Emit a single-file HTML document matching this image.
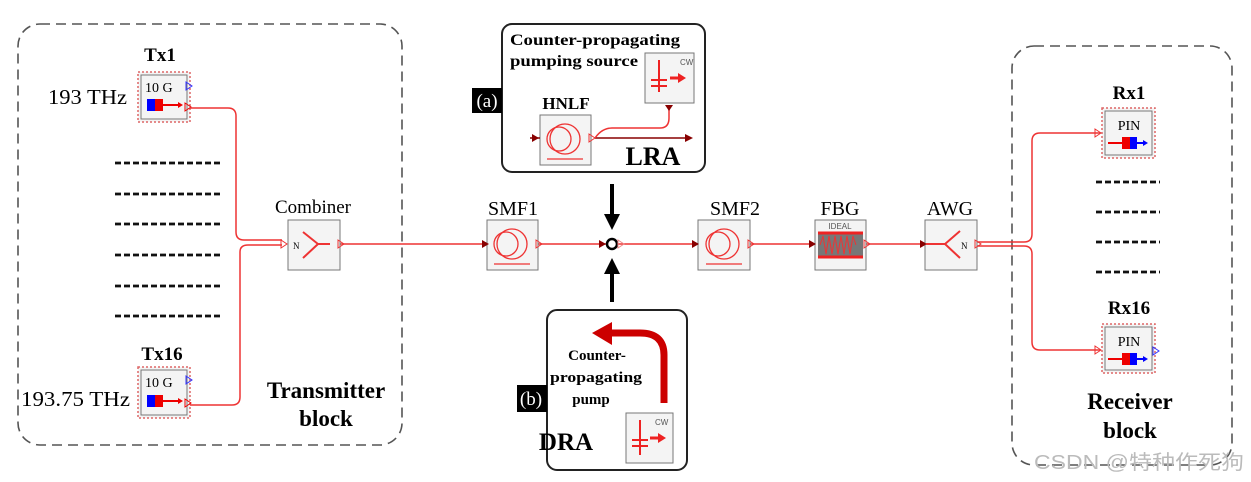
<!DOCTYPE html>
<html><head><meta charset="utf-8"><style>
html,body{margin:0;padding:0;background:#fff;}
svg{display:block}
text{font-family:"Liberation Serif",serif;}
</style></head><body>
<svg width="1251" height="482" viewBox="0 0 1251 482" xmlns="http://www.w3.org/2000/svg">
<rect x="18" y="24" width="384" height="421" rx="22" fill="none" stroke="#555" stroke-width="1.6" stroke-dasharray="10,6"/>
<rect x="1012" y="46" width="220" height="419" rx="22" fill="none" stroke="#555" stroke-width="1.6" stroke-dasharray="10,6"/>

<!-- Tx1 -->
<text x="160" y="61" font-size="19" font-weight="bold" text-anchor="middle">Tx1</text>
<rect x="138" y="72" width="52" height="50" fill="#f4f4f4" stroke="#d66" stroke-width="1.5" stroke-dasharray="2,2"/>
<rect x="141" y="75" width="46" height="44" fill="none" stroke="#777"/>
<text x="145" y="92" font-size="14">10 G</text>
<path d="M186,82 l6,4 l-6,4z" fill="none" stroke="#33f"/>
<rect x="147" y="99" width="8" height="12" fill="#00f"/><rect x="155" y="99" width="8" height="12" fill="#e00"/>
<path d="M163,105 h18" stroke="#e00" stroke-width="2"/><path d="M178,102 l5,3 l-5,3z" fill="#e00"/>
<path d="M185,103 l6,4 l-6,4z" fill="none" stroke="#e00"/>
<text x="48" y="104" font-size="21" textLength="79" lengthAdjust="spacingAndGlyphs">193 THz</text>
<!-- Tx16 -->
<text x="162" y="360" font-size="19" font-weight="bold" text-anchor="middle">Tx16</text>
<rect x="138" y="367" width="52" height="51" fill="#f4f4f4" stroke="#d66" stroke-width="1.5" stroke-dasharray="2,2"/>
<rect x="141" y="370" width="46" height="45" fill="none" stroke="#777"/>
<text x="145" y="387" font-size="14">10 G</text>
<path d="M186,376 l6,4 l-6,4z" fill="none" stroke="#33f"/>
<rect x="147" y="395" width="8" height="12" fill="#00f"/><rect x="155" y="395" width="8" height="12" fill="#e00"/>
<path d="M163,401 h18" stroke="#e00" stroke-width="2"/><path d="M178,398 l5,3 l-5,3z" fill="#e00"/>
<path d="M185,399 l6,4 l-6,4z" fill="none" stroke="#e00"/>
<text x="21" y="406" font-size="21" textLength="109" lengthAdjust="spacingAndGlyphs">193.75 THz</text>
<g stroke="#111" stroke-width="2.8" stroke-dasharray="6,3">
<path d="M115,163h105M115,194h105M115,224h105M115,255h105M115,286h105M115,316h105"/>
<path d="M1096,182h64M1096,212h64M1096,242h64M1096,272h64"/>
</g>
<text x="326" y="398" font-size="23" font-weight="bold" text-anchor="middle">Transmitter</text>
<text x="326" y="426" font-size="23" font-weight="bold" text-anchor="middle">block</text>

<g fill="none" stroke="#e33" stroke-width="1.5">
<path d="M190,108 H228 Q236,108 236,116 V232 Q236,240 244,240 H282"/>
<path d="M190,405 H232 Q240,405 240,397 V252 Q240,245 248,245 H282"/>
<path d="M340,244 H487"/>
<path d="M538,244 H607"/>
<path d="M617,244 H698"/>
<path d="M750,244 H815"/>
<path d="M866,244 H925"/>
<path d="M977,242 H1024 Q1032,242 1032,234 V141 Q1032,133 1040,133 H1100"/>
<path d="M977,246 H1024 Q1032,246 1032,254 V342 Q1032,350 1040,350 H1100"/>
</g>
<path d="M1095,129 l6,4 l-6,4z" fill="none" stroke="#e33"/>
<path d="M1095,346 l6,4 l-6,4z" fill="none" stroke="#e33"/>

<!-- Combiner -->
<text x="313" y="213" font-size="19" text-anchor="middle">Combiner</text>
<rect x="288" y="220" width="52" height="50" fill="#f4f4f4" stroke="#777"/>
<path d="M281,240 l6,4 l-6,4z" fill="none" stroke="#e33"/>
<text x="293" y="249" font-size="9">N</text>
<path d="M303,232 L318,244 L303,258 M318,244 H330" stroke="#e33" stroke-width="2" fill="none"/>
<path d="M338,240 l6,4 l-6,4z" fill="none" stroke="#e33"/>

<text x="513" y="215" font-size="20" text-anchor="middle">SMF1</text>
<rect x="487" y="220" width="51" height="50" fill="#f4f4f4" stroke="#777"/>
<g fill="none" stroke="#e33" stroke-width="1.3"><circle cx="512" cy="244" r="15"/><circle cx="506" cy="244" r="12"/><path d="M494,264h36"/></g>
<path d="M482,240 l7,4 l-7,4z" fill="#800"/><path d="M536,240 l6,4 l-6,4z" fill="none" stroke="#e33"/>

<text x="735" y="215" font-size="20" text-anchor="middle">SMF2</text>
<rect x="698" y="220" width="52" height="50" fill="#f4f4f4" stroke="#777"/>
<g fill="none" stroke="#e33" stroke-width="1.3"><circle cx="724" cy="244" r="15"/><circle cx="718" cy="244" r="12"/><path d="M706,264h36"/></g>
<path d="M692,240 l7,4 l-7,4z" fill="#800"/><path d="M748,240 l6,4 l-6,4z" fill="none" stroke="#e33"/>

<circle cx="612" cy="244" r="5" fill="#fff" stroke="#000" stroke-width="2.5"/>
<path d="M599,240 l7,4 l-7,4z" fill="#800"/><path d="M618,240 l6,4 l-6,4z" fill="none" stroke="#e88"/>
<path d="M612,184 V216" stroke="#000" stroke-width="4"/><path d="M604,214 L612,230 L620,214z" fill="#000"/>
<path d="M612,302 V272" stroke="#000" stroke-width="4"/><path d="M604,274 L612,258 L620,274z" fill="#000"/>

<text x="840" y="215" font-size="20" text-anchor="middle">FBG</text>
<rect x="815" y="220" width="51" height="50" fill="#f4f4f4" stroke="#777"/>
<text x="840" y="229" font-size="8" style="font-family:'Liberation Sans',sans-serif" text-anchor="middle" fill="#555">IDEAL</text>
<rect x="818" y="232" width="45" height="26" fill="#777"/>
<path d="M818,233h45M818,257h45" stroke="#e22" stroke-width="3"/>
<path d="M820,245 l3,-9 l3,18 l3,-18 l3,18 l3,-18 l3,18 l3,-18 l3,18 l3,-18 l3,18 l3,-18 l3,9" fill="none" stroke="#e33"/>
<path d="M809,240 l7,4 l-7,4z" fill="#800"/><path d="M864,240 l6,4 l-6,4z" fill="none" stroke="#e33"/>

<text x="950" y="215" font-size="20" text-anchor="middle">AWG</text>
<rect x="925" y="220" width="52" height="50" fill="#f4f4f4" stroke="#777"/>
<path d="M920,240 l7,4 l-7,4z" fill="#800"/>
<path d="M926,244 H945 M960,231 L945,244 L960,258" stroke="#e33" stroke-width="2" fill="none"/>
<text x="961" y="249" font-size="9">N</text>
<path d="M975,240 l6,4 l-6,4z" fill="none" stroke="#e33"/>

<!-- LRA box -->
<rect x="502" y="24" width="203" height="148" rx="10" fill="#fff" stroke="#222" stroke-width="2"/>
<text x="510" y="45" font-size="16" font-weight="bold" textLength="170" lengthAdjust="spacingAndGlyphs">Counter-propagating</text>
<text x="510" y="66" font-size="16" font-weight="bold" textLength="128" lengthAdjust="spacingAndGlyphs">pumping source</text>
<rect x="645" y="53" width="49" height="50" fill="#f4f4f4" stroke="#777"/>
<text x="680" y="65" font-size="8" style="font-family:'Liberation Sans',sans-serif" fill="#555">CW</text>
<path d="M659,60 V92 M651,80 h16 M651,86 h16" stroke="#e22" stroke-width="2"/>
<path d="M670,78 h10" stroke="#e22" stroke-width="3"/><path d="M678,73 l8,5 l-8,5z" fill="#e22"/>
<rect x="472" y="88" width="30" height="25" fill="#000"/>
<text x="487" y="107" font-size="19" fill="#fff" text-anchor="middle">(a)</text>
<text x="566" y="109" font-size="17" font-weight="bold" text-anchor="middle">HNLF</text>
<rect x="540" y="115" width="51" height="50" fill="#f4f4f4" stroke="#777"/>
<g fill="none" stroke="#e33" stroke-width="1.3"><circle cx="565" cy="139" r="15"/><circle cx="559" cy="139" r="12"/><path d="M547,159h36"/></g>
<path d="M530,138 h10" stroke="#800" stroke-width="1.5"/><path d="M532,134 l7,4 l-7,4z" fill="#800"/>
<path d="M589,134 l6,4 l-6,4z" fill="none" stroke="#e33"/>
<path d="M595,138 H690" stroke="#800" stroke-width="1.5"/><path d="M685,134 l8,4 l-8,4z" fill="#800"/>
<path d="M595,138 Q602,128 612,128 H660 Q669,128 669,118 V106" fill="none" stroke="#e33" stroke-width="1.5"/>
<path d="M665,105 l4,6 l4,-6z" fill="#800"/>
<text x="653" y="165" font-size="26" font-weight="bold" text-anchor="middle">LRA</text>

<!-- DRA box -->
<rect x="547" y="310" width="140" height="160" rx="10" fill="#fff" stroke="#222" stroke-width="2"/>
<path d="M664,403 V355 Q664,333 640,333 H610" fill="none" stroke="#c00" stroke-width="7"/>
<path d="M612,322 L592,333 L612,345z" fill="#c00"/>
<text x="597" y="360" font-size="15" font-weight="bold" text-anchor="middle">Counter-</text>
<text x="596" y="382" font-size="15" font-weight="bold" text-anchor="middle" textLength="92" lengthAdjust="spacingAndGlyphs">propagating</text>
<text x="591" y="404" font-size="15" font-weight="bold" text-anchor="middle">pump</text>
<rect x="517" y="385" width="30" height="27" fill="#000"/>
<text x="531" y="405" font-size="19" fill="#fff" text-anchor="middle">(b)</text>
<text x="566" y="450" font-size="25" font-weight="bold" text-anchor="middle">DRA</text>
<rect x="626" y="413" width="47" height="50" fill="#f4f4f4" stroke="#777"/>
<text x="655" y="425" font-size="8" style="font-family:'Liberation Sans',sans-serif" fill="#555">CW</text>
<path d="M640,420 V455 M632,440 h16 M632,446 h16" stroke="#e22" stroke-width="2"/>
<path d="M650,438 h10" stroke="#e22" stroke-width="3"/><path d="M658,433 l8,5 l-8,5z" fill="#e22"/>

<!-- Rx1 -->
<text x="1129" y="99" font-size="19" font-weight="bold" text-anchor="middle">Rx1</text>
<rect x="1102" y="108" width="53" height="50" fill="#f4f4f4" stroke="#d66" stroke-width="1.5" stroke-dasharray="2,2"/>
<rect x="1105" y="111" width="47" height="44" fill="none" stroke="#777"/>
<text x="1129" y="130" font-size="14" text-anchor="middle">PIN</text>
<path d="M1108,143 h14" stroke="#e00" stroke-width="2"/><rect x="1122" y="137" width="8" height="12" fill="#e00"/><rect x="1130" y="137" width="7" height="12" fill="#00f"/>
<path d="M1137,143 h8" stroke="#00f" stroke-width="2"/><path d="M1143,140 l5,3 l-5,3z" fill="#00f"/>
<!-- Rx16 -->
<text x="1129" y="314" font-size="19" font-weight="bold" text-anchor="middle">Rx16</text>
<rect x="1102" y="324" width="53" height="49" fill="#f4f4f4" stroke="#d66" stroke-width="1.5" stroke-dasharray="2,2"/>
<rect x="1105" y="327" width="47" height="43" fill="none" stroke="#777"/>
<text x="1129" y="346" font-size="14" text-anchor="middle">PIN</text>
<path d="M1108,359 h14" stroke="#e00" stroke-width="2"/><rect x="1122" y="353" width="8" height="12" fill="#e00"/><rect x="1130" y="353" width="7" height="12" fill="#00f"/>
<path d="M1137,359 h8" stroke="#00f" stroke-width="2"/><path d="M1143,356 l5,3 l-5,3z" fill="#00f"/>
<path d="M1153,347 l6,4 l-6,4z" fill="none" stroke="#33f"/>
<text x="1130" y="409" font-size="23" font-weight="bold" text-anchor="middle">Receiver</text>
<text x="1130" y="438" font-size="23" font-weight="bold" text-anchor="middle">block</text>

<text x="1034" y="469" font-size="20" fill="#bbb" textLength="210" lengthAdjust="spacingAndGlyphs" style="font-family:'Liberation Sans','Noto Sans CJK SC',sans-serif">CSDN @特种作死狗</text>
</svg>
</body></html>
